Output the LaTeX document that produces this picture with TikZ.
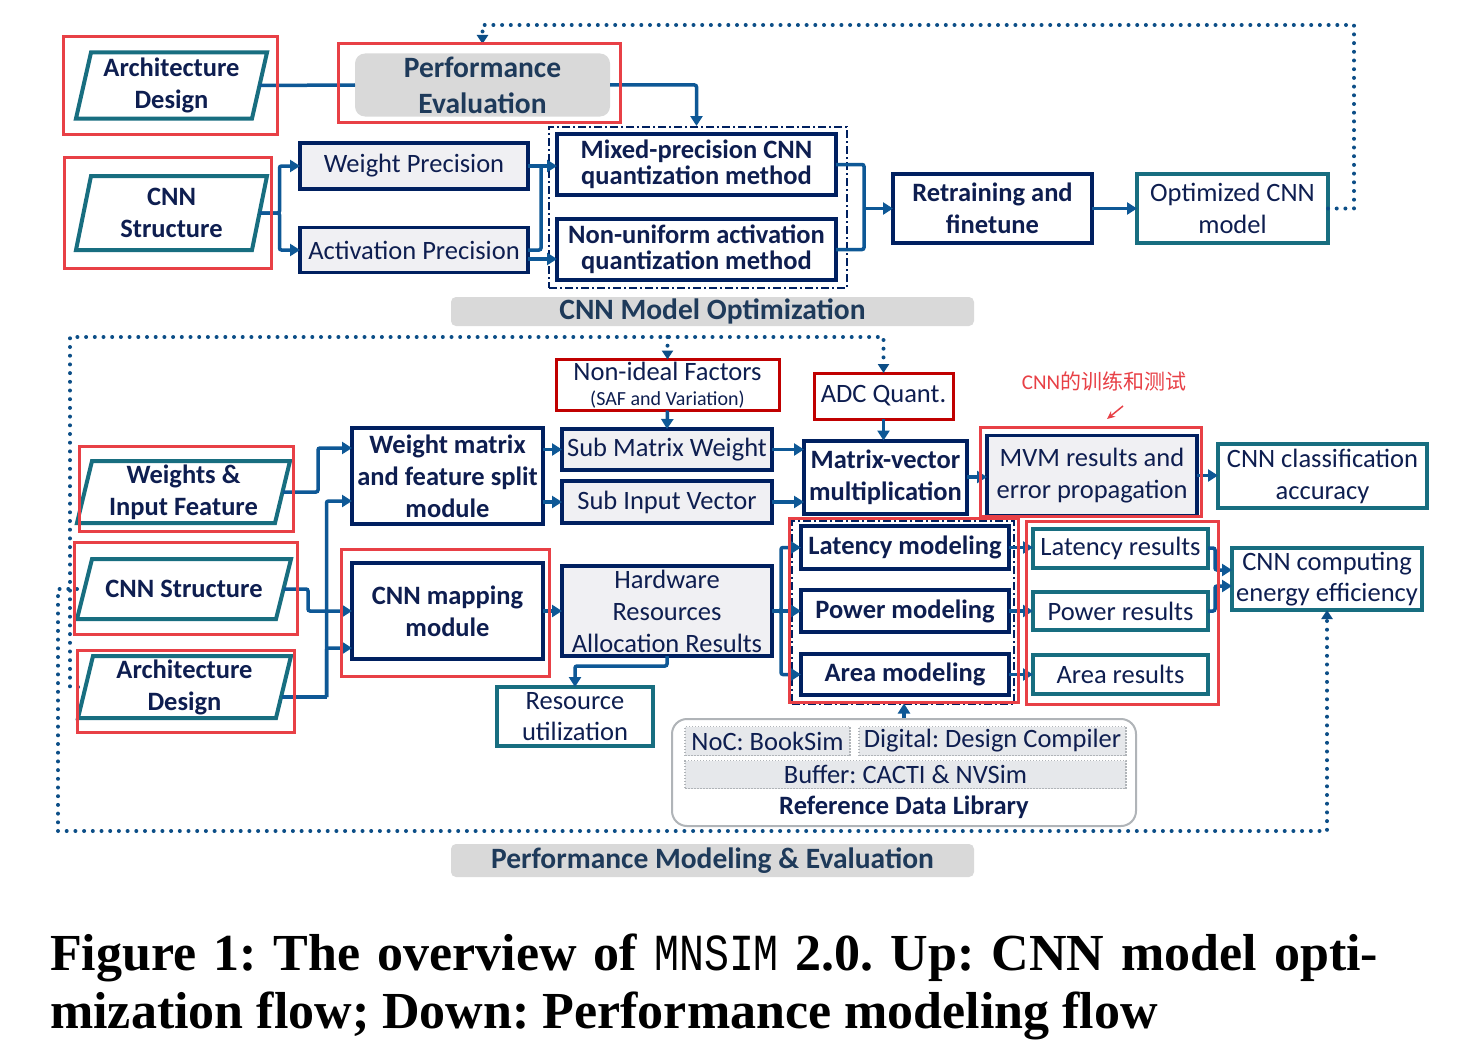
\documentclass[tikz,border=0pt]{standalone}
\usepackage{fontspec}
\setmainfont{Carlito}
\newfontfamily\capfont{Liberation Serif}
\newfontfamily\mnfont{Liberation Mono}
\newfontfamily\cjkfont{Noto Sans CJK SC}
\usepackage{graphicx}
\usetikzlibrary{arrows.meta,calc}
\frenchspacing
\definecolor{navy}{RGB}{0,32,96}
\definecolor{navyT}{RGB}{14,30,80}
\definecolor{tealc}{RGB}{24,110,128}
\definecolor{arrowc}{RGB}{14,88,150}
\definecolor{dotc}{RGB}{12,78,135}
\definecolor{redA}{RGB}{232,64,70}
\definecolor{redD}{RGB}{192,0,0}
\definecolor{boxgray}{RGB}{240,240,243}
\definecolor{lblgray}{RGB}{217,217,217}
\definecolor{lbltext}{RGB}{30,58,90}
\definecolor{libgray}{RGB}{176,180,184}
\definecolor{libfill}{RGB}{230,232,235}
\newcommand{\parabox}[6]{%
  \node[base, bf, minimum width=#4, minimum height=#5] (#1) at (#2,#3) {#6};
  \draw[paraline] (#1.south west) -- ([xshift=15pt]#1.north west) -- (#1.north east) -- ([xshift=-15pt]#1.south east) -- cycle;
}
\begin{document}
\begin{tikzpicture}[x=1pt,y=-1pt,
  base/.style={inner sep=0pt, outer sep=0pt, align=center, text=navyT},
  rm/.style={font=\frenchspacing\fontsize{26.5}{32}\selectfont},
  bf/.style={font=\bfseries\fontsize{26.5}{32}\selectfont},
  bft/.style={font=\bfseries\fontsize{26.5}{26}\selectfont},
  nbox/.style={base, draw=navy, line width=4pt, fill=white},
  gbox/.style={base, draw=navy, line width=3.5pt, fill=boxgray},
  tbox/.style={base, draw=tealc, line width=4pt, fill=white},
  rbox/.style={base, draw=redD, line width=3pt, fill=white},
  redbox/.style={draw=redA, line width=3pt, inner sep=0pt},
  paraline/.style={draw=tealc, line width=4pt},
  perf/.style={base, fill=lblgray, rounded corners=10pt, text=lbltext, font=\bfseries\fontsize{29.5}{36}\selectfont},
  lbl/.style={base, fill=lblgray, rounded corners=5pt, text=lbltext, font=\bfseries\fontsize{29.5}{36}\selectfont},
  dashbox/.style={draw=navy, line width=2pt, dash pattern=on 8pt off 3pt on 2pt off 3pt, inner sep=0pt},
  libbox/.style={base, rm, fill=libfill, draw=libgray, line width=1.5pt, dash pattern=on 1.5pt off 1.5pt},
  conn/.style={draw=arrowc, line width=3.5pt, rounded corners=2pt, -{Triangle[length=10pt,width=12pt]}},
  wire/.style={draw=arrowc, line width=3.5pt, rounded corners=2pt},
  dotarrow/.style={draw=dotc, line width=4pt, line cap=round, dash pattern=on 0pt off 8.7pt, -{Triangle[length=9pt,width=11pt]}},
  capf/.style={anchor=base west, inner sep=0pt, font=\capfont\bfseries\frenchspacing\fontsize{52}{60}\selectfont}
]
\fill[white] (0,0) rectangle (1484,1049);
\useasboundingbox (0,0) rectangle (1484,1049);
\coordinate (dtt) at (0,25);
\coordinate (dtop) at (0,337);
\coordinate (dbot) at (0,831);

% ================= TOP =================
\parabox{archT}{171.5}{85.5}{191}{66}{Architecture\\Design}
\node[perf, minimum width=255, minimum height=63] (perfT) at (482.5,85) {Performance\\Evaluation};
\parabox{cnnT}{171.5}{213}{191}{74}{CNN\\Structure}
\node[gbox, rm, minimum width=228, minimum height=46] (wp) at (414,166) {Weight Precision};
\node[gbox, rm, minimum width=228, minimum height=45] (ap) at (414,250) {Activation Precision};
\node[dashbox, minimum width=298, minimum height=161] (qbox) at (698,207.5) {};
\node[nbox, bft, minimum width=279, minimum height=61] (mix) at (696.5,164.5) {Mixed-precision CNN\\quantization method};
\node[nbox, bft, minimum width=279, minimum height=61] (nonu) at (696.5,249.5) {Non-uniform activation\\quantization method};
\node[nbox, bf, minimum width=199, minimum height=69] (retr) at (992.5,208.5) {Retraining and\\finetune};
\node[tbox, rm, minimum width=191, minimum height=69] (opt) at (1232.5,208.5) {Optimized CNN\\model};
\node[lbl, minimum width=523, minimum height=29] (lab1) at (712.5,311.5) {CNN Model Optimization};

\draw[wire] ([xshift=-7.5pt]archT.east) -- (perfT.west);
\draw[conn] (perfT.east) -| (mix.north |- qbox.north);
\draw[conn] ([xshift=-7.5pt]cnnT.east) -- ++(20,0) |- (wp.west);
\draw[conn] ([xshift=-7.5pt]cnnT.east) -- ++(20,0) |- (ap.west);
\draw[conn] (wp.east) -- (wp.east -| mix.west);
\draw[wire] (ap.east) -- ++(13,0) coordinate (apj) -- (apj |- wp.east);
\draw[conn] ([yshift=-9pt]ap.east) -- ([yshift=-9pt]ap.east -| nonu.west);
\draw[wire] (mix.east) -- ++(28,0) coordinate (qj) |- (nonu.east);
\draw[conn] (qj |- retr.west) -- (retr.west);
\draw[conn] (retr.east) -- (opt.west);
\draw[dotarrow] (opt.east) -- ++(26,0) |- (perfT.north |- dtt) -- (perfT.north |- 0,44);

\node[redbox, minimum width=214, minimum height=97] (archTR) at (170,85.5) {};
\node[redbox, minimum width=282, minimum height=78] (perfR) at (479,83) {};
\node[redbox, minimum width=207, minimum height=111] (cnnTR) at (167.5,212.5) {};

% ================= BOTTOM =================
\node[rbox, font=\fontsize{26.5}{25}\selectfont, minimum width=223, minimum height=51] (nonideal) at (667.5,385) {Non-ideal Factors\\{\fontsize{20}{25}\selectfont (SAF and Variation)}};
\node[rbox, rm, minimum width=139, minimum height=46] (adc) at (883.5,396) {ADC Quant.};
\node[gbox, rm, minimum width=210, minimum height=41] (smw) at (667,449.5) {Sub Matrix Weight};
\node[gbox, rm, minimum width=210, minimum height=42] (siv) at (667,502) {Sub Input Vector};
\node[nbox, bf, minimum width=163, minimum height=73] (mvmul) at (885.5,477) {Matrix-vector\\multiplication};
\node[nbox, bf, minimum width=191, minimum height=96] (wms) at (447.5,476) {Weight matrix\\and feature split\\module};
\parabox{wif}{183.5}{492}{213}{62}{Weights \&\\Input Feature}
\parabox{cnnB}{184}{589}{214}{60}{CNN Structure}
\parabox{archB}{184.5}{687}{213}{62}{Architecture\\Design}
\node[nbox, bf, minimum width=191, minimum height=96] (map) at (447.5,611) {CNN mapping\\module};
\node[gbox, rm, minimum width=210, minimum height=90] (hw) at (667,611) {Hardware\\Resources\\Allocation Results};
\node[tbox, font=\fontsize{26.5}{31}\selectfont, minimum width=156, minimum height=59] (ru) at (575,716.5) {Resource\\utilization};
\node[dashbox, minimum width=222, minimum height=183] (mdash) at (903,612.5) {};
\node[nbox, bf, minimum width=208, minimum height=43] (lat) at (905,547.5) {Latency modeling};
\node[nbox, bf, minimum width=208, minimum height=42] (pow) at (905,611) {Power modeling};
\node[nbox, bf, minimum width=208, minimum height=41] (area) at (905,674.5) {Area modeling};
\node[tbox, rm, minimum width=175, minimum height=39] (latr) at (1120.5,548) {Latency results};
\node[tbox, rm, minimum width=175, minimum height=38] (powr) at (1120.5,611) {Power results};
\node[tbox, rm, minimum width=175, minimum height=39] (arear) at (1120.5,674.5) {Area results};
\node[tbox, font=\fontsize{26.5}{31}\selectfont, minimum width=190, minimum height=62] (eff) at (1327,579) {CNN computing\\energy efficiency};
\node[gbox, rm, minimum width=210, minimum height=80] (mvmres) at (1092,475.5) {MVM results and\\error propagation};
\node[tbox, rm, minimum width=209, minimum height=64] (acc) at (1322.5,476) {CNN classification\\accuracy};
\node[draw=libgray, line width=2pt, rounded corners=15pt, minimum width=464, minimum height=107, inner sep=0pt] (lib) at (904,772.5) {};
\node[libbox, minimum width=165, minimum height=29] (noc) at (767.5,741) {NoC: BookSim};
\node[libbox, minimum width=267, minimum height=29] (dig) at (992.5,741) {Digital: Design Compiler};
\node[libbox, minimum width=441, minimum height=28] (buf) at (905.5,774.5) {Buffer: CACTI \& NVSim};
\node[base, bf] (libt) at (904,807) {Reference Data Library};
\node[lbl, minimum width=523, minimum height=33] (lab2) at (712.5,860.5) {Performance Modeling \& Evaluation};

% annotation
\node[inner sep=0pt, text=redA, font=\fontsize{21}{24}\selectfont] (ann) at (1104,381) {CNN{\cjkfont 的训练和测试}};
\coordinate (ra1) at (1123,406);
\coordinate (ra2) at (1107,419);
\draw[redA, line width=1.5pt, -{Stealth[length=8pt,width=7pt]}] (ra1) -- (ra2);

% connectors bottom
\draw[dotarrow] (archB.west) -- ++(-8,0) |- (adc.north |- dtop) -- (adc.north);
\draw[dotarrow] (nonideal.north |- dtop) -- (nonideal.north);
\draw[dotarrow] (cnnB.west) -- ++(-19,0) |- (eff.south |- dbot) -- (eff.south);
\draw[conn] (nonideal.south) -- (smw.north);
\draw[conn] (adc.south) -- (adc.south |- mvmul.north);
\draw[conn] ([xshift=-7.5pt]wif.east) -- ++(35.5,0) |- ([yshift=28pt]wms.west);
\draw[conn] ([xshift=-7.5pt]cnnB.east) -- ++(24.5,0) |- (map.west);
\draw[wire] ([xshift=-9pt,yshift=-10pt]archB.east) -- ++(44.5,0) coordinate (aj);
\draw[conn] (aj) |- ([yshift=-25pt]wms.west);
\draw[conn] (aj) |- ([yshift=-37pt]map.west);
\draw[conn] (wms.east |- smw.west) -- (smw.west);
\draw[conn] (wms.east |- siv.west) -- (siv.west);
\draw[conn] (smw.east) -- (smw.east -| mvmul.west);
\draw[conn] (siv.east) -- (siv.east -| mvmul.west);
\draw[conn] (mvmul.east) -- (mvmul.east -| mvmres.west);
\draw[conn] (mvmres.east) -- (mvmres.east -| acc.west);
\draw[conn] (map.east) -- (map.east -| hw.west);
\draw[conn] (hw.south) -- ++(0,10) -| (ru.north);
\draw[conn] (hw.east) -- ++(9,0) |- (lat.west);
\draw[conn] (hw.east) -- (pow.west);
\draw[conn] (hw.east) -- ++(9,0) |- (area.west);
\draw[conn] (lat.east) -- (lat.east -| latr.west);
\draw[conn] (pow.east) -- (pow.east -| powr.west);
\draw[conn] (area.east) -- (area.east -| arear.west);
\draw[conn] (latr.east) -- ++(7,0) |- ([yshift=9pt]eff.west);
\draw[conn] (powr.east) -- ++(7,0) |- ([yshift=-7pt]eff.west);

% red highlight boxes bottom
\node[redbox, minimum width=214, minimum height=85] (wifR) at (186,488.5) {};
\node[redbox, minimum width=223, minimum height=92] (cnnBR) at (185.5,588) {};
\node[redbox, minimum width=217, minimum height=82] (archBR) at (185.5,691) {};
\node[redbox, minimum width=208, minimum height=127] (mapR) at (445,612.5) {};
\node[redbox, minimum width=229, minimum height=184] (modR) at (903.5,610) {};
\node[redbox, minimum width=192, minimum height=183] (resR) at (1122,612.5) {};
\node[redbox, minimum width=221, minimum height=89] (mvmR) at (1090.5,471.5) {};
\draw[conn] (lib.north) -- (lib.north |- modR.south);

% caption
\node[capf] (cap1) at (50,970) {\makebox[1328pt][s]{Figure 1: The overview of \scalebox{0.8}[1]{\mnfont\mdseries MNSIM} 2.0. Up: CNN model opti-}};
\node[capf] (cap2) at (50,1028) {mization flow; Down: Performance modeling flow};
\end{tikzpicture}
\end{document}
